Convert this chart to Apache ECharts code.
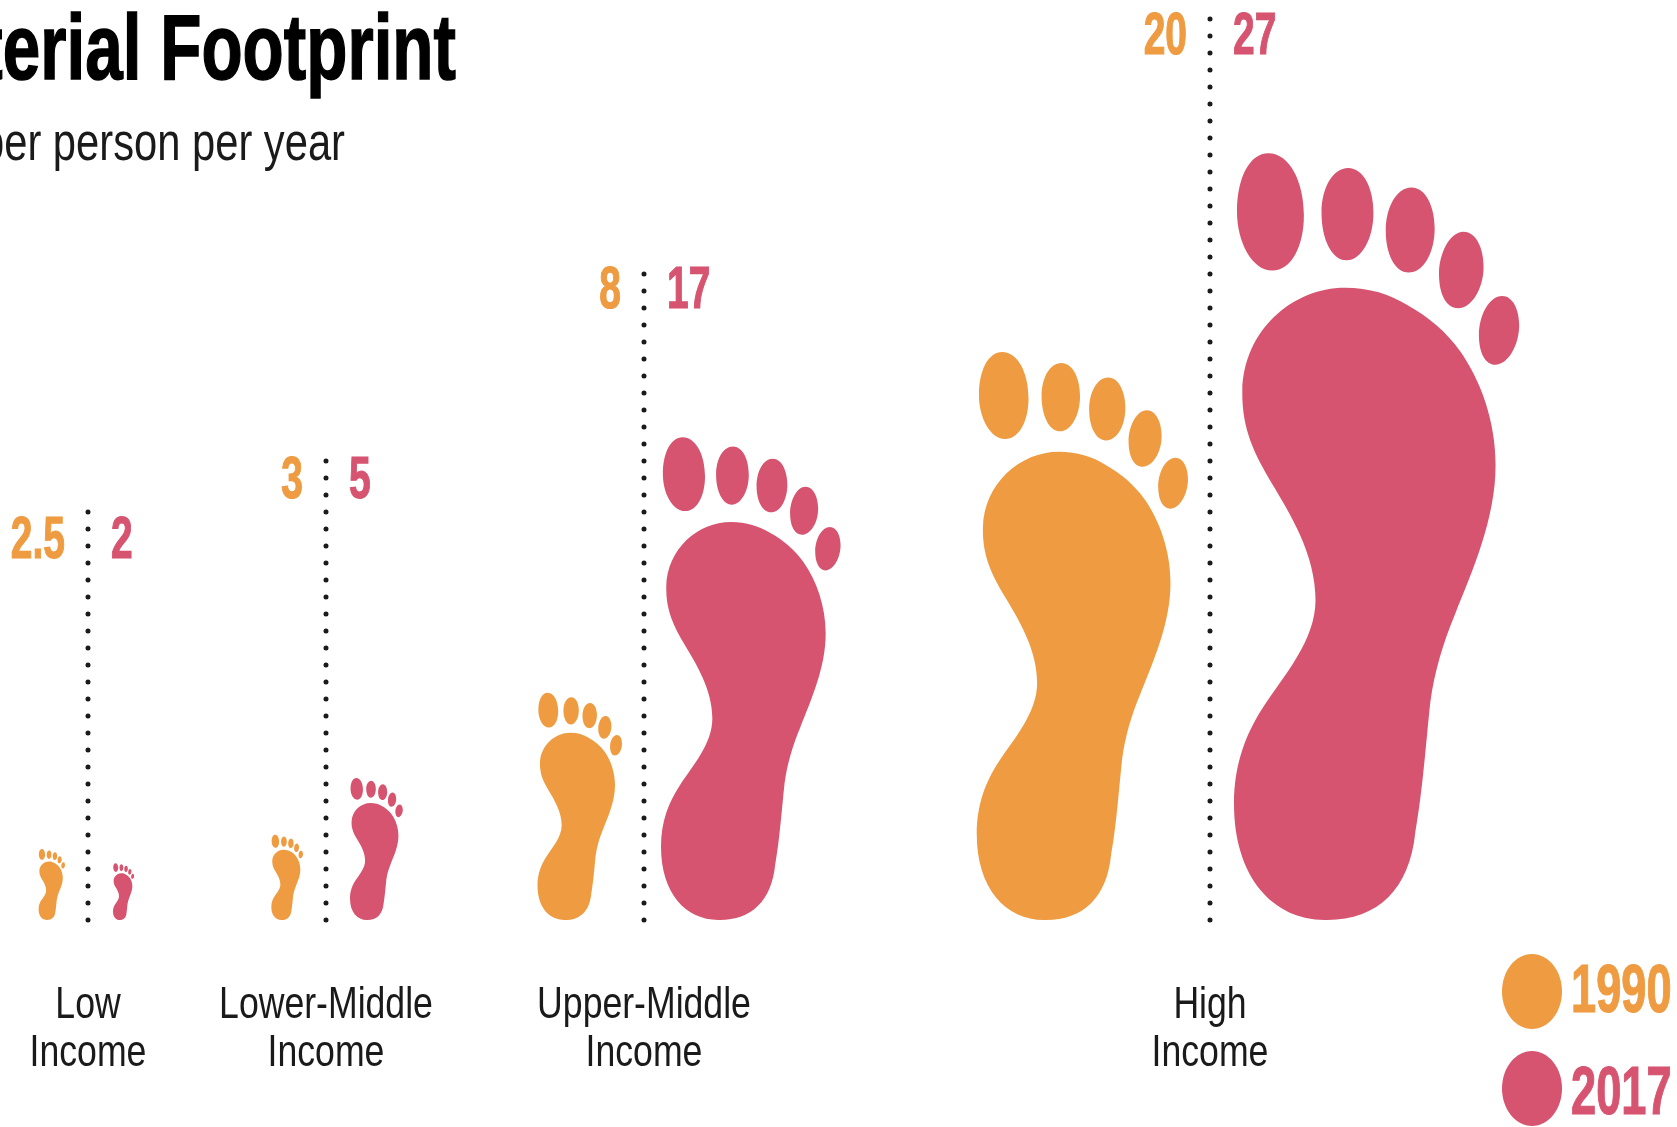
<!DOCTYPE html>
<html>
<head>
<meta charset="utf-8">
<style>html,body{margin:0;padding:0;background:#fff;overflow:hidden}#chart{width:1677px;height:1127px}</style>
<script src="https://cdn.jsdelivr.net/npm/echarts@6/dist/echarts.min.js"></script>
</head>
<body>
<div id="chart"></div>
<script>
const incomeGroups = ['Low\nIncome', 'Lower-Middle\nIncome', 'Upper-Middle\nIncome', 'High\nIncome'];
const groupCentres = [88, 326, 644, 1210];
const values1990 = [2.5, 3, 8, 20];
const values2017 = [2, 5, 17, 27];
const dividerTops = [14.5, 16.3, 22.9, 31.8];
const labelLevels = [13.33, 15.44, 22.13, 31.07];
const footGaps1990 = [23, 23, 22, 22];
const footGaps2017 = [25, 24, 17, 24];
const years = ['1990', '2017'];
const yearColours = ['#EF9B41', '#D6546F'];
const titleText = 'Material Footprint';
const subtitleText = 'Tonnes per person per year';

const FONT = '"Liberation Sans", Arial, sans-serif';
const FOOT_ASPECT = 0.372;
const LABEL_GAP = 23;
const FOOT_PATH = 'M405,307 C480,307 540,320 590,340 C660,365 710,395 750,430 C815,490 858,570 858,655 C858,760 790,860 735,950 C700,1005 675,1060 662,1120 C650,1190 640,1290 617,1375 C600,1490 500,1550 345,1548 C190,1548 72,1465 72,1320 C72,1240 110,1180 160,1130 C220,1070 317,1000 317,920 C317,830 240,750 185,690 C135,635 95,585 97,510 C100,390 250,307 405,307 Z ' +
  'M81,158 C81,90 120,43 175,43 C240,43 282,100 282,165 C282,225 245,273 187,273 C125,273 81,215 81,158 Z ' +
  'M335,160 C335,110 370,72 415,72 C460,72 491,110 491,160 C491,210 455,253 410,253 C365,253 335,210 335,160 Z ' +
  'M528,195 C528,150 560,110 605,110 C650,110 675,150 675,190 C675,240 640,277 597,277 C555,277 528,240 528,195 Z ' +
  'M688,280 C688,240 720,197 762,197 C800,197 822,230 822,265 C822,310 785,347 745,347 C710,347 688,320 688,280 Z ' +
  'M808,400 C808,360 840,323 878,323 C910,323 929,350 929,380 C929,420 895,458 857,458 C828,458 808,435 808,400 Z';

function footSeries(name, values, gaps, colour, side) {
  return {
    name, type: 'custom', clip: false, silent: true,
    coordinateSystem: 'cartesian2d',
    encode: { x: 0, y: 1 },
    data: values.map((v, i) => [groupCentres[i], v, labelLevels[i], gaps[i]]),
    itemStyle: { color: colour },
    renderItem(params, api) {
      const top = api.coord([api.value(0), api.value(1)]);
      const base = api.coord([api.value(0), 0]);
      const labelPos = api.coord([api.value(0), api.value(2)]);
      const h = base[1] - top[1];
      const w = h * FOOT_ASPECT;
      const gap = api.value(3);
      const x = side < 0 ? base[0] - gap - w : base[0] + gap;
      return {
        type: 'group',
        children: [
          { type: 'path', shape: { pathData: FOOT_PATH, x, y: top[1], width: w, height: h, layout: 'cover' },
            style: { fill: colour } },
          { type: 'text', x: base[0] + side * LABEL_GAP, y: labelPos[1], scaleX: 0.66,
            style: { text: String(api.value(1)), x: 0, y: 0, fill: colour, stroke: colour, lineWidth: 1.2,
              align: side < 0 ? 'right' : 'left', verticalAlign: 'middle',
              font: 'bold 59px ' + FONT } }
        ]
      };
    }
  };
}

const dividerSeries = {
  name: 'dividers', type: 'custom', clip: false, silent: true,
  coordinateSystem: 'cartesian2d',
  encode: { x: 0, y: 1 },
  data: groupCentres.map((c, i) => [c, dividerTops[i], i]),
  renderItem(params, api) {
    const top = api.coord([api.value(0), api.value(1)]);
    const base = api.coord([api.value(0), 0]);
    const lines = incomeGroups[api.value(2)].split('\n');
    return {
      type: 'group',
      children: [
        { type: 'line', shape: { x1: base[0], y1: base[1], x2: top[0], y2: top[1] },
          style: { stroke: '#1a1a1a', lineWidth: 5, lineCap: 'round', lineDash: [0, 17] } }
      ].concat(lines.map((t, k) => ({
        type: 'text', x: base[0], y: base[1] + 86 + k * 48, scaleX: 0.817,
        style: { text: t, x: 0, y: 0, fill: '#1a1a1a', align: 'center', verticalAlign: 'middle',
          font: '43.6px ' + FONT }
      })))
    };
  }
};

function legendEntry(i, top, textY) {
  return [
    { type: 'ellipse', shape: { cx: 1532, cy: top + 37.5, rx: 30, ry: 37.5 }, style: { fill: yearColours[i] } },
    { type: 'text', x: 1571, y: textY, scaleX: 0.665,
      style: { text: years[i], x: 0, y: 0, fill: yearColours[i], stroke: yearColours[i], lineWidth: 1.2,
        align: 'left', verticalAlign: 'middle', font: 'bold 68px ' + FONT } }
  ];
}

const chart = echarts.init(document.getElementById('chart'), null, { renderer: 'canvas' });
chart.setOption({
  animation: false,
  backgroundColor: '#ffffff',
  grid: { left: 0, top: 0, width: 1677, height: 920, containLabel: false },
  xAxis: { type: 'value', min: 0, max: 1677, show: false },
  yAxis: { type: 'value', min: 0, max: 32.4, show: false },
  graphic: [
    { type: 'text', x: 456, y: 100, scaleX: 0.725,
      style: { text: titleText, x: 0, y: 0, fill: '#000', stroke: '#000', lineWidth: 1.5, align: 'right', verticalAlign: 'bottom', font: 'bold 93px ' + FONT } },
    { type: 'text', x: 345, y: 172, scaleX: 0.787,
      style: { text: subtitleText, x: 0, y: 0, fill: '#1a1a1a', align: 'right', verticalAlign: 'bottom', font: '53px ' + FONT } }
  ].concat(legendEntry(0, 954, 993), legendEntry(1, 1051, 1095)),
  series: [
    dividerSeries,
    footSeries(years[0], values1990, footGaps1990, yearColours[0], -1),
    footSeries(years[1], values2017, footGaps2017, yearColours[1], 1)
  ]
});
</script>
</body>
</html>
